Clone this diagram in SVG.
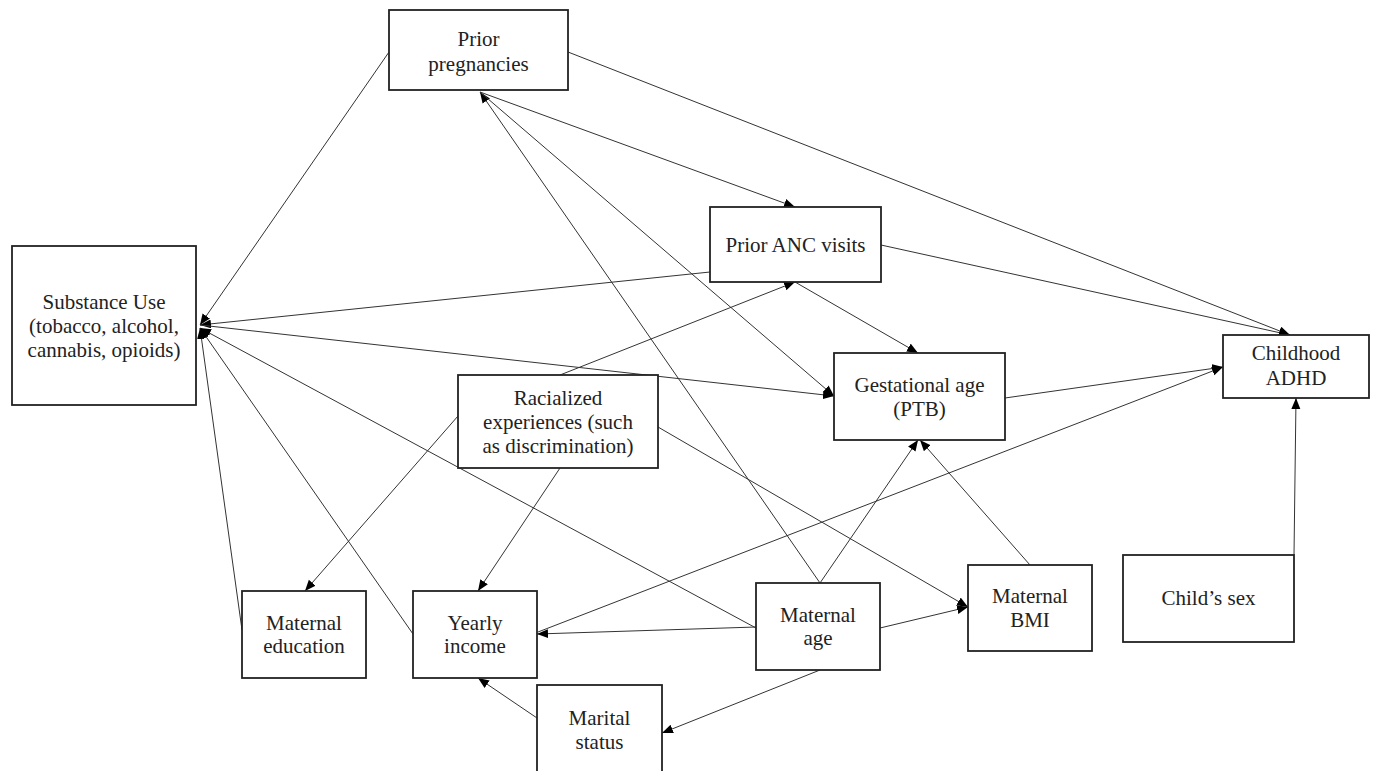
<svg xmlns="http://www.w3.org/2000/svg" width="1377" height="771" viewBox="0 0 1377 771">
<style>
.box{fill:#fff;stroke:#222;stroke-width:1.8}
.t{font-family:"Liberation Serif","DejaVu Serif",serif;font-size:21px;fill:#222;text-anchor:middle}
.e{stroke:#333;stroke-width:1;fill:none;marker-end:url(#ah)}
</style>
<defs>
<marker id="ah" markerUnits="userSpaceOnUse" markerWidth="12" markerHeight="10" refX="11" refY="4.5" orient="auto">
<path d="M0,0 L11,4.5 L0,9 z" fill="#000"/>
</marker>
</defs>
<rect width="1377" height="771" fill="#fff"/>
<g id="connectors">
<line class="e" x1="389" y1="52" x2="200" y2="325"/>
<line class="e" x1="710" y1="272" x2="200" y2="325"/>
<line class="e" x1="200" y1="325" x2="834" y2="396"/>
<line class="e" x1="242" y1="630" x2="200" y2="328"/>
<line class="e" x1="413" y1="634" x2="200" y2="328"/>
<line class="e" x1="756" y1="628" x2="200" y2="328"/>
<line class="e" x1="568" y1="52" x2="1290" y2="335"/>
<line class="e" x1="881" y1="245" x2="1290" y2="335"/>
<line class="e" x1="1005" y1="398" x2="1223" y2="367"/>
<line class="e" x1="538" y1="632" x2="1223" y2="367"/>
<line class="e" x1="820" y1="583" x2="480" y2="92"/>
<line class="e" x1="480" y1="92" x2="834" y2="396"/>
<line class="e" x1="480" y1="92" x2="795" y2="207"/>
<line class="e" x1="560" y1="375" x2="795" y2="282"/>
<line class="e" x1="795" y1="282" x2="918" y2="353"/>
<line class="e" x1="458" y1="416" x2="305" y2="591"/>
<line class="e" x1="560" y1="468" x2="478" y2="591"/>
<line class="e" x1="658" y1="427" x2="968" y2="607"/>
<line class="e" x1="820" y1="583" x2="918" y2="440"/>
<line class="e" x1="1030" y1="565" x2="920" y2="440"/>
<line class="e" x1="880" y1="628" x2="968" y2="607"/>
<line class="e" x1="820" y1="670" x2="662" y2="733"/>
<line class="e" x1="537" y1="718" x2="478" y2="678"/>
<line class="e" x1="1294" y1="555" x2="1296" y2="398"/>
<line class="e" x1="756" y1="627" x2="537" y2="634"/>
</g>
<g id="substance-use"><rect class="box" x="12" y="246" width="184" height="159"/>
<text class="t" x="104" y="309">Substance Use</text><text class="t" x="104" y="333">(tobacco, alcohol,</text><text class="t" x="104" y="357">cannabis, opioids)</text></g>
<g id="prior-pregnancies"><rect class="box" x="389" y="10" width="179" height="80"/>
<text class="t" x="478.5" y="46">Prior</text><text class="t" x="478.5" y="71">pregnancies</text></g>
<g id="prior-anc"><rect class="box" x="710" y="207" width="171" height="75"/>
<text class="t" x="795.5" y="252">Prior ANC visits</text></g>
<g id="racialized"><rect class="box" x="458" y="375" width="200" height="93"/>
<text class="t" x="558" y="405">Racialized</text><text class="t" x="558" y="429">experiences (such</text><text class="t" x="558" y="453">as discrimination)</text></g>
<g id="gestational-age"><rect class="box" x="834" y="353" width="171" height="87"/>
<text class="t" x="919.5" y="392">Gestational age</text><text class="t" x="919.5" y="416">(PTB)</text></g>
<g id="childhood-adhd"><rect class="box" x="1223" y="335" width="146" height="63"/>
<text class="t" x="1296" y="360">Childhood</text><text class="t" x="1296" y="385">ADHD</text></g>
<g id="maternal-education"><rect class="box" x="242" y="591" width="124" height="87"/>
<text class="t" x="304" y="630">Maternal</text><text class="t" x="304" y="653">education</text></g>
<g id="yearly-income"><rect class="box" x="413" y="591" width="124" height="87"/>
<text class="t" x="475" y="630">Yearly</text><text class="t" x="475" y="653">income</text></g>
<g id="maternal-age"><rect class="box" x="756" y="583" width="124" height="87"/>
<text class="t" x="818" y="622">Maternal</text><text class="t" x="818" y="645">age</text></g>
<g id="maternal-bmi"><rect class="box" x="968" y="565" width="124" height="86"/>
<text class="t" x="1030" y="603">Maternal</text><text class="t" x="1030" y="627">BMI</text></g>
<g id="marital-status"><rect class="box" x="537" y="685" width="125" height="100"/>
<text class="t" x="599.5" y="725">Marital</text><text class="t" x="599.5" y="749">status</text></g>
<g id="childs-sex"><rect class="box" x="1123" y="555" width="171" height="87"/>
<text class="t" x="1208.5" y="605">Child’s sex</text></g>
</svg>
